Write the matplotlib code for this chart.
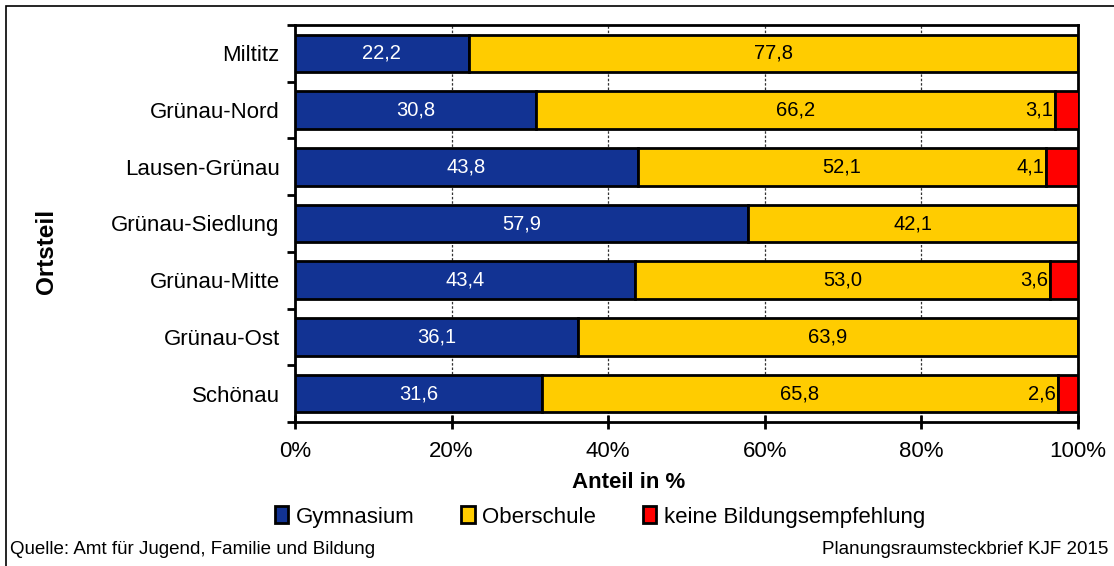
import matplotlib.pyplot as plt
import numpy as np
from matplotlib.patches import Patch, Rectangle

plt.rcParams['font.family'] = ['Liberation Sans', 'DejaVu Sans']

# data (top to bottom as in the chart)
ortsteile = ['Miltitz', 'Grünau-Nord', 'Lausen-Grünau', 'Grünau-Siedlung',
             'Grünau-Mitte', 'Grünau-Ost', 'Schönau']
gymnasium = [22.2, 30.8, 43.8, 57.9, 43.4, 36.1, 31.6]
oberschule = [77.8, 66.2, 52.1, 42.1, 53.0, 63.9, 65.8]
keine = [0.0, 3.1, 4.1, 0.0, 3.6, 0.0, 2.6]

series_names = ['Gymnasium', 'Oberschule', 'keine Bildungsempfehlung']
colors = ['#123393', '#FFCC00', '#FF0000']

fig = plt.figure(figsize=(11.14, 5.66), dpi=100)
W, H = 1114, 566
ax = fig.add_axes([295 / W, 1 - 422 / H, (1078 - 295) / W, (422 - 25) / H])

y = np.arange(len(ortsteile))[::-1]
g = np.array(gymnasium)
o = np.array(oberschule)
k = np.array(keine)

ax.barh(y, g, height=0.66, color=colors[0], edgecolor='black', linewidth=2, zorder=3)
ax.barh(y, o, left=g, height=0.66, color=colors[1], edgecolor='black', linewidth=2, zorder=3)
ax.barh(y, k, left=g + o, height=0.66, color=colors[2], edgecolor='black', linewidth=2, zorder=3)

def fmt(v):
    return f'{v:.1f}'.replace('.', ',')

for yi, gv, ov, kv in zip(y, g, o, k):
    ax.text(gv / 2, yi, fmt(gv), ha='center', va='center', color='white', fontsize=14.5, zorder=4)
    ax.text(gv + ov / 2, yi, fmt(ov), ha='center', va='center', color='black', fontsize=14.5, zorder=4)
    if kv > 0:
        ax.text(gv + ov - 0.2, yi, fmt(kv), ha='right', va='center', color='black', fontsize=14.5, zorder=4)

ax.set_xlim(0, 100)
ax.set_ylim(-0.5, len(ortsteile) - 0.5)
ax.set_xticks(np.arange(0, 101, 20))
ax.set_xticklabels([f'{v}%' for v in range(0, 101, 20)], fontsize=16)
ax.set_yticks(y)
ax.set_yticklabels(ortsteile, fontsize=16)
ax.set_yticks(np.arange(-0.5, len(ortsteile), 1), minor=True)
ax.tick_params(axis='y', which='major', length=0, pad=11)
ax.tick_params(axis='y', which='minor', length=6, width=2, direction='out')
ax.tick_params(axis='x', which='major', length=10, width=2, direction='inout', pad=9)
ax.xaxis.grid(True, color='#333333', linestyle=(0, (2, 1.5)), linewidth=0.9, zorder=0)
for s in ax.spines.values():
    s.set_linewidth(2)
    s.set_color('black')

fig.text(629 / W, 1 - 482 / H, 'Anteil in %', ha='center', va='center',
         fontsize=16, fontweight='bold')
fig.text(46 / W, 1 - 251 / H, 'Ortsteil', ha='center', va='center',
         fontsize=17.5, fontweight='bold', rotation=90)

handles = [Patch(facecolor=c, edgecolor='black', linewidth=2) for c in colors]
fig.legend(handles, series_names, loc='center', bbox_to_anchor=(600 / W, 1 - 517 / H),
           ncol=3, frameon=False, fontsize=16, handlelength=0.6, handleheight=0.8,
           handletextpad=0.35, columnspacing=2.1)

fig.text(10 / W, 1 - 550 / H, 'Quelle: Amt für Jugend, Familie und Bildung',
         ha='left', va='center', fontsize=13.5)
fig.text(1108 / W, 1 - 550 / H, 'Planungsraumsteckbrief KJF 2015',
         ha='right', va='center', fontsize=13.5)

# outer chart frame
fig.patches.append(Rectangle((6 / W, -0.1), 1.2, 1 - 6 / H + 0.1, transform=fig.transFigure,
                             fill=False, edgecolor='black', linewidth=1.2))

fig.savefig('out.png', dpi=100)
